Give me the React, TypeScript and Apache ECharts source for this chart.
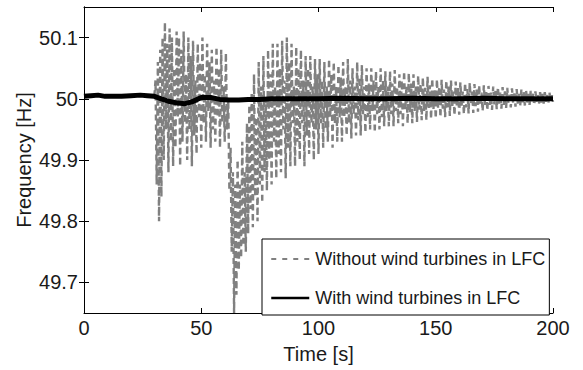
import React, { useEffect, useRef } from "react";
import * as echarts from "echarts";

// Gray series: "Without wind turbines in LFC", sampled every 0.5 s from t = 30 s (one row = 10 s)
const grayStart = 30;
const grayStep = 0.5;
const grayValues = [
  50.004, 50.03, 49.86, 50.06, 49.80, 50.08, 49.84, 50.10, 49.90, 50.125, 49.95, 50.09, 49.88, 50.115, 49.93, 50.10, 49.89, 50.05, 49.92, 50.11,
  49.97, 50.10, 49.89, 50.08, 49.93, 50.11, 49.96, 50.04, 49.90, 50.10, 49.95, 50.07, 49.89, 50.095, 49.94, 50.03, 49.91, 50.09, 49.97, 50.06,
  49.92, 50.10, 49.96, 50.04, 49.93, 50.09, 49.98, 50.06, 49.92, 50.08, 49.95, 50.03, 49.93, 50.085, 49.97, 50.05, 49.92, 50.08, 49.96, 50.02,
  49.93, 50.075, 49.95, 50.0, 49.85, 49.92, 49.75, 49.88, 49.65, 49.86, 49.68, 49.90, 49.72, 49.86, 49.74, 49.93, 49.76, 49.88, 49.75, 49.96,
  49.78, 49.99, 49.82, 50.01, 49.79, 50.04, 49.84, 49.97, 49.80, 50.06, 49.86, 50.02, 49.83, 50.07, 49.88, 50.0, 49.85, 50.08, 49.90, 50.04,
  49.86, 50.09, 49.93, 50.02, 49.87, 50.09, 49.91, 50.05, 49.88, 50.095, 49.95, 50.03, 49.87, 50.10, 49.92, 50.06, 49.89, 50.09, 49.96, 50.02,
  49.89, 50.085, 49.93, 50.05, 49.90, 50.08, 49.96, 50.03, 49.89, 50.07, 49.94, 50.05, 49.91, 50.07, 49.96, 50.02, 49.90, 50.065, 49.95, 50.04,
  49.91, 50.065, 49.96, 50.03, 49.92, 50.06, 49.95, 50.02, 49.93, 50.065, 49.97, 50.04, 49.92, 50.06, 49.96, 50.02, 49.93, 50.055, 49.97, 50.035,
  49.93, 50.06, 49.97, 50.02, 49.94, 50.065, 49.96, 50.03, 49.935, 50.05, 49.975, 50.02, 49.94, 50.06, 49.965, 50.035, 49.94, 50.055, 49.975, 50.02,
  49.945, 50.05, 49.97, 50.025, 49.95, 50.05, 49.98, 50.03, 49.945, 50.045, 49.975, 50.02, 49.95, 50.05, 49.97, 50.03, 49.955, 50.045, 49.98, 50.02,
  49.955, 50.045, 49.975, 50.025, 49.955, 50.047, 49.98, 50.02, 49.96, 50.04, 49.975, 50.03, 49.955, 50.045, 49.982, 50.02, 49.96, 50.042, 49.978, 50.025,
  49.96, 50.04, 49.98, 50.02, 49.962, 50.038, 49.982, 50.025, 49.965, 50.035, 49.98, 50.018, 49.965, 50.036, 49.985, 50.022, 49.967, 50.033, 49.982, 50.015,
  49.968, 50.032, 49.985, 50.02, 49.97, 50.031, 49.984, 50.015, 49.97, 50.03, 49.986, 50.02, 49.972, 50.03, 49.985, 50.012, 49.973, 50.028, 49.987, 50.018,
  49.974, 50.027, 49.988, 50.012, 49.975, 50.026, 49.986, 50.016, 49.976, 50.026, 49.99, 50.012, 49.977, 50.024, 49.988, 50.015, 49.979, 50.022, 49.99, 50.01,
  49.98, 50.022, 49.99, 50.013, 49.981, 50.021, 49.99, 50.01, 49.982, 50.02, 49.991, 50.014, 49.983, 50.019, 49.992, 50.01, 49.984, 50.019, 49.99, 50.012,
  49.985, 50.018, 49.992, 50.01, 49.986, 50.017, 49.993, 50.012, 49.987, 50.016, 49.992, 50.009, 49.988, 50.015, 49.993, 50.011, 49.989, 50.014, 49.994, 50.008,
  49.99, 50.013, 49.994, 50.009, 49.99, 50.012, 49.995, 50.007, 49.991, 50.011, 49.994, 50.008, 49.992, 50.011, 49.995, 50.007, 49.992, 50.01, 49.996, 50.006,
  49.995,
];

// Black series: "With wind turbines in LFC"
const blackTimes = [0, 3, 6, 9, 12, 16, 20, 24, 27, 30, 33, 36, 40, 43, 46, 50, 54, 58, 62, 66, 70, 75, 80, 90, 100, 110, 120, 130, 140, 150, 160, 170, 180, 190, 200];
const blackValues = [50.004, 50.005, 50.006, 50.004, 50.004, 50.004, 50.005, 50.006, 50.005, 50.004, 50.0, 49.996, 49.993, 49.992, 49.995, 50.002, 50.002, 49.999, 49.998, 49.998, 49.999, 49.999, 50.0, 50.0, 50.0, 50.001, 50.0, 50.0, 50.001, 50.0, 50.0, 50.001, 50.0, 50.0, 50.0];

const xTicks = [0, 50, 100, 150, 200];
const yTicks = [49.7, 49.8, 49.9, 50, 50.1];

const seriesNames = ["Without wind turbines in LFC", "With wind turbines in LFC"];

const FONT = "Liberation Sans, Arial, Helvetica, sans-serif";
const TXT = "#1a1a1a";

export default function App() {
  const ref = useRef<HTMLDivElement>(null);
  useEffect(() => {
    if (!ref.current) return;
    const chart = echarts.init(ref.current, null, { renderer: "svg" });
    const grayData = grayValues.map((v, i) => [grayStart + i * grayStep, v]);
    const blackData = blackTimes.map((t, i) => [t, blackValues[i]]);
    const axisLine = { show: true, lineStyle: { color: "#000", width: 1 } };
    chart.setOption({
      animation: false,
      backgroundColor: "#fff",
      textStyle: { fontFamily: FONT },
      grid: { left: 84, right: 30, top: 7, bottom: 57, containLabel: false },
      xAxis: [
        {
          type: "value",
          min: 0,
          max: 200,
          interval: 50,
          position: "bottom",
          name: "Time [s]",
          nameLocation: "middle",
          nameGap: 31,
          nameMoveOverlap: false,
          nameTextStyle: { fontSize: 20, color: TXT, fontFamily: FONT },
          axisLine,
          axisTick: { show: true, inside: true, length: 5, lineStyle: { color: "#000" }, customValues: xTicks },
          axisLabel: { fontSize: 20, color: TXT, margin: 5, fontFamily: FONT, customValues: xTicks },
          splitLine: { show: false },
        },
        {
          type: "value",
          min: 0,
          max: 200,
          interval: 50,
          position: "top",
          axisLine,
          axisTick: { show: true, inside: true, length: 5, lineStyle: { color: "#000" }, customValues: xTicks },
          axisLabel: { show: false },
          splitLine: { show: false },
        },
      ],
      yAxis: [
        {
          type: "value",
          min: 49.65,
          max: 50.15,
          position: "left",
          name: "Frequency [Hz]",
          nameLocation: "middle",
          nameGap: 50,
          nameMoveOverlap: false,
          nameTextStyle: { fontSize: 20, color: TXT, fontFamily: FONT },
          axisLine,
          axisTick: { show: true, inside: true, length: 5, lineStyle: { color: "#000" }, customValues: yTicks },
          axisLabel: {
            fontSize: 20,
            color: TXT,
            margin: 6,
            fontFamily: FONT,
            customValues: yTicks,
            formatter: (v: number) => String(Math.round(v * 10) / 10),
          },
          splitLine: { show: false },
        },
        {
          type: "value",
          min: 49.65,
          max: 50.15,
          position: "right",
          axisLine,
          axisTick: { show: true, inside: true, length: 5, lineStyle: { color: "#000" }, customValues: yTicks },
          axisLabel: { show: false },
          splitLine: { show: false },
        },
      ],
      legend: {
        orient: "vertical",
        left: 262,
        top: 239,
        width: 285,
        padding: [11, 4, 8, 8],
        itemGap: 21,
        itemWidth: 38,
        itemHeight: 14,
        borderColor: "#000",
        borderWidth: 1,
        backgroundColor: "#fff",
        textStyle: { fontSize: 18, color: TXT, fontFamily: FONT, padding: [0, 0, 0, 1] },
        data: [
          { name: seriesNames[0], itemStyle: { opacity: 0 }, lineStyle: { width: 2, type: [5, 6], color: "#808080", opacity: 1 } },
          { name: seriesNames[1], itemStyle: { opacity: 0 }, lineStyle: { width: 2.5, type: "solid", color: "#000", opacity: 1 } },
        ],
      },
      series: [
        {
          name: seriesNames[0],
          type: "line",
          data: grayData,
          showSymbol: false,
          symbol: "none",
          lineStyle: { color: "#808080", width: 2.4, type: [6, 4] },
          itemStyle: { color: "#808080" },
          z: 2,
        },
        {
          name: seriesNames[1],
          type: "line",
          data: blackData,
          showSymbol: false,
          symbol: "none",
          lineStyle: { color: "#000", width: 5 },
          itemStyle: { color: "#000" },
          z: 3,
        },
      ],
    });
    return () => chart.dispose();
  }, []);
  return <div ref={ref} style={{ position: "fixed", left: 0, top: 0, width: 583, height: 370 }} />;
}
